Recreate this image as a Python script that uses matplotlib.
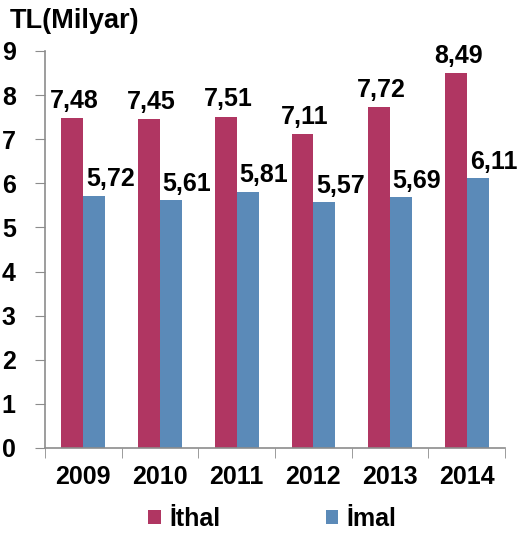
import numpy as np
import matplotlib
matplotlib.use("Agg")
from matplotlib import pyplot as plt

years = ["2009", "2010", "2011", "2012", "2013", "2014"]
ithal = [7.48, 7.45, 7.51, 7.11, 7.72, 8.49]
imal = [5.72, 5.61, 5.81, 5.57, 5.69, 6.11]
ithal_labels = ["7,48", "7,45", "7,51", "7,11", "7,72", "8,49"]
imal_labels = ["5,72", "5,61", "5,81", "5,57", "5,69", "6,11"]

plt.rcParams['font.family'] = ['Liberation Sans', 'DejaVu Sans']
plt.rcParams['font.weight'] = 'bold'

red = '#B03662'
blue = '#5B8AB8'
gray = '#8C8C8C'
fs = 18

fig = plt.figure(figsize=(5.21, 5.33), dpi=100)
ax = fig.add_axes([0.0864, 0.1595, 0.883, 0.745])

x = np.arange(len(years))
w = 0.285
ax.bar(x - w/2, ithal, w, color=red, label='İthal')
ax.bar(x + w/2, imal, w, color=blue, label='İmal')

for i in range(len(years)):
    ax.text(x[i] - w/2 + 0.03, ithal[i] + 0.12, ithal_labels[i], ha='center', va='bottom',
            fontsize=fs, fontweight='bold')
    ax.text(x[i] + w/2 + 0.21, imal[i] + 0.1, imal_labels[i], ha='center', va='bottom',
            fontsize=fs, fontweight='bold', clip_on=False)

ax.set_xlim(-0.5, len(years) - 0.5)
ax.set_ylim(0, 9)
ax.set_yticks(range(10))
ax.set_xticks(x)
ax.set_xticklabels(years)
ax.set_xticks(np.arange(-0.5, len(years)), minor=True)
ax.tick_params(axis='x', which='major', length=0, labelsize=fs, pad=12)
ax.tick_params(axis='x', which='minor', length=7, color=gray, direction='out')
ax.tick_params(axis='y', length=7, color=gray, labelsize=fs, pad=14)
for lab in ax.get_xticklabels() + ax.get_yticklabels():
    lab.set_fontweight('bold')

for s in ['top', 'right']:
    ax.spines[s].set_visible(False)
ax.spines['left'].set_color(gray)
ax.spines['bottom'].set_color(gray)
ax.spines['left'].set_linewidth(1.2)
ax.spines['bottom'].set_linewidth(1.2)

fig.text(0.019, 0.96, 'TL(Milyar)', fontsize=19.5, fontweight='bold', va='center')

fig.legend(loc='center', bbox_to_anchor=(0.523, 0.026), ncol=2, frameon=False,
           handlelength=0.5, handleheight=0.5, columnspacing=4.2,
           handletextpad=0.35, prop={'weight': 'bold', 'size': fs})

fig.savefig('out.png', dpi=100)
